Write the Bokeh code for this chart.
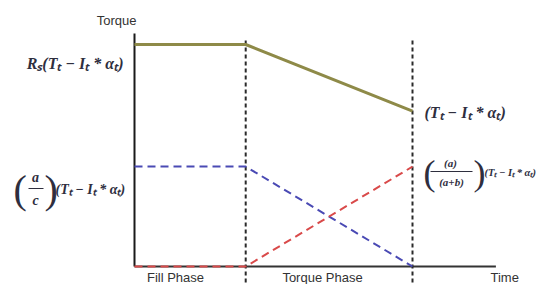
from bokeh.plotting import figure
from bokeh.models import Range1d, Label, BoxAnnotation
from bokeh.embed import file_html
from bokeh.resources import INLINE

# ---- data ----
t_points = [0.0, 1.0, 2.5]          # start, end of fill phase, end of torque phase
total_torque = [1.0, 1.0, 0.70]     # olive solid line
off_clutch = [0.45, 0.45, 0.0]      # blue dashed
on_clutch = [0.0, 0.0, 0.45]        # red dashed
phase_bounds = [1.0, 2.5]
phase_bound_tops = [1.03, 1.02]
phase_names = ["Fill Phase", "Torque Phase"]
axis_time = [0.0, 3.25]
axis_torque = [0.0, 1.05]

W, H = 544, 284
# pixel geometry -> data
X0, XU = 134.0, 111.2
Y0, YU = 266.0, 222.0

def dx(ix):
    return (ix - X0) / XU

def dy(iy):
    return (Y0 - iy) / YU

p = figure(width=W, height=H, output_backend="svg", toolbar_location=None,
           x_range=Range1d(dx(0), dx(W)), y_range=Range1d(dy(H), dy(0)),
           min_border=0, min_border_left=0, min_border_right=0,
           min_border_top=0, min_border_bottom=0)
p.axis.visible = False
p.grid.visible = False
p.outline_line_color = None
p.background_fill_color = "white"
p.border_fill_color = "white"

# axes
p.line([axis_time[0], axis_time[0]], axis_torque, line_color="#1a1a1a", line_width=2)
p.line(axis_time, [axis_torque[0], axis_torque[0]], line_color="#333333", line_width=2)

# phase boundaries
p.segment(x0=phase_bounds, y0=[dy(H + 5)] * 2, x1=phase_bounds, y1=phase_bound_tops,
          line_color="#2a2a2a", line_width=2, line_dash="4 3")

# series
p.line(t_points, total_torque, line_color="#8e8a48", line_width=3)
p.line(t_points, off_clutch, line_color="#4a4ab4", line_width=2, line_dash="8 5")
p.line(t_points, on_clutch, line_color="#d94a4a", line_width=2, line_dash="8 5")

SANS = "Liberation Sans"
SERIF = "Liberation Serif"
TXT = "#333333"
MATH = "#2e2e3e"

def lab(text, ix, iy, size, align="left", base="middle", font=SANS, style="normal", color=TXT):
    p.add_layout(Label(x=dx(ix), y=dy(iy), text=text, text_font=font, text_font_size=f"{size}px",
                       text_font_style=style, text_color=color, text_align=align,
                       text_baseline=base))

def bar(ix0, ix1, iy):
    p.add_layout(BoxAnnotation(left=dx(ix0), right=dx(ix1), bottom=dy(iy + 0.6), top=dy(iy - 0.6),
                               fill_color=MATH, fill_alpha=1.0, line_color=None))

# axis titles
lab("Torque", 136, 12, 13, align="right", base="top")
lab("Time", 490, 269, 13, base="top")
lab(phase_names[0], 175, 269, 13, align="center", base="top")
lab(phase_names[1], 322, 269, 13, align="center", base="top")

expr = "(T\u209c \u2212 I\u209c * \u03b1\u209c)"

# left labels
lab("R\u209b" + expr, 123, 63, 16, align="right", font=SERIF, style="bold italic", color=MATH)

lab("(", 13, 189, 40, font=SERIF, color=MATH)
lab("a", 35, 177, 14, align="center", font=SERIF, style="bold italic", color=MATH)
bar(28, 43, 188)
lab("c", 35, 200, 14, align="center", font=SERIF, style="bold italic", color=MATH)
lab(")", 44, 189, 40, font=SERIF, color=MATH)
lab(expr, 55, 189, 14, font=SERIF, style="bold italic", color=MATH)

# right labels
lab(expr, 424, 112, 16, font=SERIF, style="bold italic", color=MATH)

lab("(", 423, 172, 36, font=SERIF, color=MATH)
lab("(a)", 450, 162, 11, align="center", font=SERIF, style="bold italic", color=MATH)
bar(430, 472, 171)
lab("(a+b)", 451, 181, 11, align="center", font=SERIF, style="bold italic", color=MATH)
lab(")", 473, 172, 36, font=SERIF, color=MATH)
lab(expr, 484, 172, 10.5, font=SERIF, style="bold italic", color=MATH)

open("out.html", "w").write(file_html(p, INLINE))
